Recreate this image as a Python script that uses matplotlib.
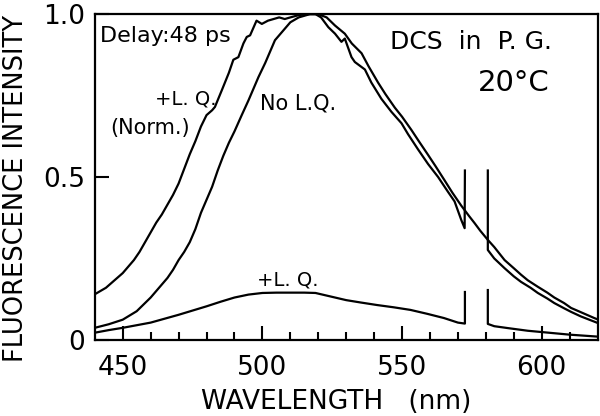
import numpy as np
import matplotlib
matplotlib.use("Agg")
import matplotlib.pyplot as plt

plt.rcParams['font.family'] = ['DejaVu Sans']

nan = np.nan

# No L.Q. spectrum
wl_nolq = [440, 445, 450, 455, 460, 463, 466, 468, 470, 472, 474, 476, 478, 480,
           482, 484, 486, 488, 490, 492.6, 495, 498.6, 501, 504.5, 507, 510, 513,
           517, 520, 523, 526, 529.5, 532, 535.5, 538, 541.4, 544, 547.4, 550,
           553.3, 556, 559.3, 562, 565.2, 568, 571.2, 574, 576, 578, 580.7, 583,
           586.7, 590, 592.6, 595, 598.6, 602, 604.5, 608, 610.5, 614, 618.8, 620]
int_nolq = [0.037, 0.048, 0.062, 0.088, 0.13, 0.16, 0.19, 0.215, 0.245, 0.27, 0.30,
            0.34, 0.39, 0.43, 0.47, 0.52, 0.565, 0.605, 0.64, 0.69, 0.735, 0.807,
            0.85, 0.92, 0.945, 0.975, 0.99, 1.0, 1.0, 0.99, 0.965, 0.94, 0.91, 0.88,
            0.84, 0.79, 0.755, 0.713, 0.685, 0.645, 0.61, 0.568, 0.533, 0.49, 0.452,
            0.412, 0.38, 0.358, 0.335, 0.307, 0.285, 0.245, 0.22, 0.2, 0.183, 0.163,
            0.145, 0.13, 0.113, 0.098, 0.085, 0.067, 0.063]

# +L.Q. normalized spectrum (gap at the laser line)
wl_norm = [440, 442, 444, 446, 448, 450, 452, 454, 456, 458, 460, 462, 464, 466,
           468, 470, 472, 474, 476, 478, 480, 482, 483, 485.5, 488, 489.6, 491.4,
           493.2, 494.4, 495.6, 497.9, 499.8, 502, 504, 506, 508, 510, 513, 516,
           519, 521, 523.6, 526, 528.3, 529.5, 531.9, 533.1, 536.7, 539, 542.6,
           546.2, 549.8, 552.1, 555.7, 559.3, 562.9, 566.4, 568.8, 571.2, 572.4,
           572.5, 576, 580.7, 580.7, 583, 586.7, 590, 592.6, 596, 598.6, 602,
           604.5, 608, 610.5, 614, 617, 620]
int_norm = [0.14, 0.15, 0.16, 0.175, 0.19, 0.205, 0.225, 0.245, 0.27, 0.30, 0.33,
            0.36, 0.385, 0.415, 0.445, 0.48, 0.525, 0.57, 0.61, 0.655, 0.69, 0.705,
            0.715, 0.767, 0.82, 0.86, 0.868, 0.91, 0.93, 0.935, 0.98, 0.97, 0.98,
            0.985, 0.99, 0.985, 0.99, 0.997, 1.0, 1.0, 0.99, 0.96, 0.94, 0.915, 0.925,
            0.868, 0.853, 0.83, 0.79, 0.74, 0.70, 0.665, 0.632, 0.585, 0.54,
            0.50, 0.455, 0.425, 0.368, 0.343, 0.52, nan, 0.52, 0.276, 0.25, 0.22,
            0.195, 0.178, 0.16, 0.144, 0.127, 0.113, 0.097, 0.086, 0.072, 0.062,
            0.052]

# +L.Q. spectrum (absolute)
wl_lq = [440, 445, 450, 455, 460, 465, 470, 475, 480, 485, 490, 495, 500, 505,
         510, 515, 519, 525, 530, 535, 541, 547, 553, 559, 565, 570, 572.5, 572.5,
         576, 580.7, 580.7, 583, 588, 595, 600, 605, 610, 615, 620]
int_lq = [0.022, 0.03, 0.037, 0.045, 0.053, 0.065, 0.077, 0.09, 0.103, 0.117, 0.13,
          0.139, 0.144, 0.145, 0.145, 0.145, 0.144, 0.132, 0.122, 0.115, 0.107, 0.1,
          0.092, 0.08, 0.067, 0.053, 0.05, 0.147, nan, 0.153, 0.049, 0.042, 0.036,
          0.028, 0.024, 0.02, 0.016, 0.013, 0.01]

x_major = [450, 500, 550, 600]
x_minor = list(range(450, 620, 10))
y_major = [0, 0.5, 1.0]
y_labels = ["0", "0.5", "1.0"]

fig = plt.figure(figsize=(6, 4.16), dpi=100)
ax = fig.add_axes([0.158, 0.183, 0.838, 0.783])

lw = 1.6
ax.plot(wl_nolq, int_nolq, color='black', lw=lw, solid_joinstyle='round')
ax.plot(wl_norm, int_norm, color='black', lw=lw, solid_joinstyle='round')
ax.plot(wl_lq, int_lq, color='black', lw=lw, solid_joinstyle='round')

ax.set_xlim(440, 620)
ax.set_ylim(0, 1.0)
ax.set_xticks(x_major)
ax.set_xticks(x_minor, minor=True)
ax.set_yticks(y_major)
ax.set_yticklabels(y_labels)
ax.tick_params(axis='both', which='major', direction='in', length=10, width=1.5,
               labelsize=19, colors='black')
ax.tick_params(axis='x', which='major', pad=11)
ax.tick_params(axis='y', which='major', pad=7)
ax.tick_params(axis='x', which='minor', direction='in', length=6, width=1.5)
for s in ax.spines.values():
    s.set_linewidth(1.6)
    s.set_color('black')

ax.set_xlabel("WAVELENGTH   (nm)", fontsize=19, va='baseline')
ax.xaxis.set_label_coords(0.481, -0.213)
ax.set_ylabel("FLUORESCENCE INTENSITY", fontsize=18.5)
ax.yaxis.set_label_coords(-0.131, 0.466)

ax.text(441.8, 0.932, "Delay:48 ps", fontsize=16, ha='left', va='center')
ax.text(472.7, 0.739, "+L. Q.", fontsize=14, ha='center', va='center')
ax.text(459.8, 0.650, "(Norm.)", fontsize=15, ha='center', va='center')
ax.text(512.9, 0.727, "No L.Q.", fontsize=15, ha='center', va='center')
ax.text(508.9, 0.184, "+L. Q.", fontsize=14, ha='center', va='center')
ax.text(574.5, 0.914, "DCS  in  P. G.", fontsize=18, ha='center', va='center')
ax.text(590.0, 0.788, "20°C", fontsize=21, ha='center', va='center')

fig.savefig("out.png", dpi=100, facecolor='white')
